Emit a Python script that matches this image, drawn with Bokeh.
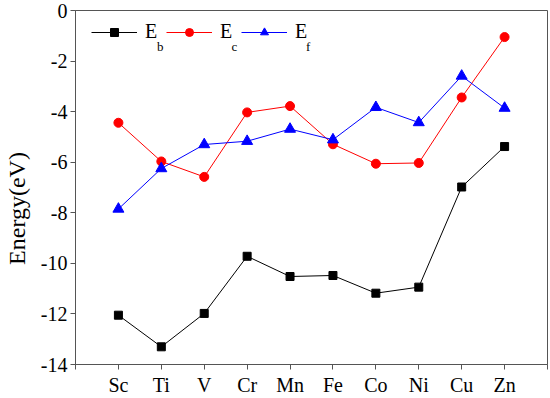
from bokeh.plotting import figure
from bokeh.models import FixedTicker, Legend, LegendItem, Label
from bokeh.embed import file_html
from bokeh.resources import INLINE

elements = ["Sc", "Ti", "V", "Cr", "Mn", "Fe", "Co", "Ni", "Cu", "Zn"]
E_b = [-12.05, -13.30, -11.98, -9.72, -10.52, -10.48, -11.18, -10.94, -6.98, -5.38]
E_c = [-4.44, -5.97, -6.58, -4.03, -3.78, -5.29, -6.06, -6.03, -3.44, -1.05]
E_f = [-7.85, -6.25, -5.30, -5.17, -4.69, -5.11, -3.83, -4.43, -2.59, -3.86]
y_ticks = [0, -2, -4, -6, -8, -10, -12, -14]

xs = list(range(1, len(elements) + 1))
FONT = "Liberation Serif"

p = figure(width=550, height=398, output_backend="svg", toolbar_location=None,
           x_range=(0, len(elements) + 1), y_range=(-14, 0),
           min_border_left=72, min_border_right=3, min_border_top=10, min_border_bottom=34)
p.grid.visible = False
p.outline_line_color = "#555555"
p.outline_line_width = 1
p.background_fill_color = "white"
p.border_fill_color = "white"

# axes
p.xaxis.ticker = FixedTicker(ticks=list(range(0, len(elements) + 2)))
overrides = {0: "", len(elements) + 1: ""}
for i, e in enumerate(elements):
    overrides[i + 1] = e
p.xaxis.major_label_overrides = overrides
p.yaxis.ticker = FixedTicker(ticks=y_ticks)
p.yaxis.major_label_overrides = {t: str(t) for t in y_ticks}
for ax in (p.xaxis, p.yaxis):
    ax.axis_line_color = "#555555"
    ax.major_tick_line_color = "#555555"
    ax.minor_tick_line_color = None
    ax.major_tick_in = 0
    ax.major_tick_out = 5
    ax.major_label_text_font = FONT
    ax.major_label_text_font_size = "20px"
    ax.major_label_text_color = "black"
    ax.major_label_standoff = 4
p.yaxis.major_label_standoff = 3
p.yaxis.axis_label = "Energy(eV)" + "\u00a0" * 7
p.yaxis.axis_label_text_font = FONT
p.yaxis.axis_label_text_font_size = "24px"
p.yaxis.axis_label_text_font_style = "normal"
p.yaxis.axis_label_text_color = "black"
p.yaxis.axis_label_standoff = 8

# series
r_b_line = p.line(xs, E_b, line_color="black", line_width=1)
r_b_pts = p.scatter(xs, E_b, marker="square", size=8, color="black")
r_c_line = p.line(xs, E_c, line_color="#ff0000", line_width=1)
r_c_pts = p.scatter(xs, E_c, marker="circle", size=9, color="#ff0000")
r_f_line = p.line(xs, E_f, line_color="#0000ff", line_width=1)
r_f_pts = p.scatter(xs, E_f, marker="triangle", size=11, color="#0000ff")

legend = Legend(items=[
    LegendItem(label="E", renderers=[r_b_line, r_b_pts]),
    LegendItem(label="E", renderers=[r_c_line, r_c_pts]),
    LegendItem(label="E", renderers=[r_f_line, r_f_pts]),
], orientation="horizontal", location=(16, 321), margin=0, padding=0,
    border_line_color=None, background_fill_alpha=0,
    glyph_width=46, glyph_height=20, label_height=20, label_width=14,
    label_standoff=8, spacing=7,
    label_text_font=FONT, label_text_font_size="20px", label_text_color="black")
p.add_layout(legend, "center")

subs = ["b", "c", "f"]
for i, s in enumerate(subs):
    p.add_layout(Label(x=1.90 + i * 75 / 43.18, y=-1.42, text=s, text_font=FONT,
                       text_font_size="13px", text_color="black",
                       text_baseline="alphabetic"))

open("out.html", "w").write(file_html(p, INLINE))
